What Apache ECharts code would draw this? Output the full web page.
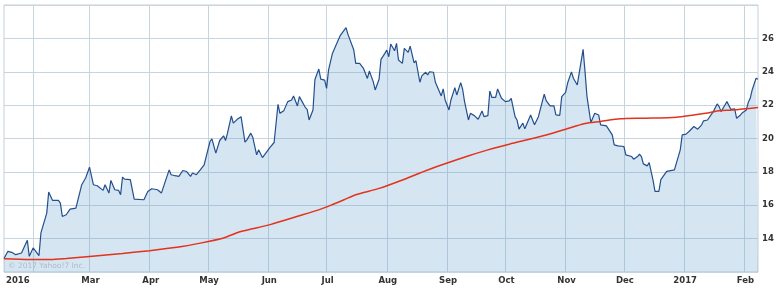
<!DOCTYPE html>
<html>
<head>
<meta charset="utf-8">
<script src="https://cdn.jsdelivr.net/npm/echarts@6/dist/echarts.min.js"></script>
<style>
html,body{margin:0;padding:0;background:#fff;}
#chart{width:781px;height:290px;}
</style>
</head>
<body>
<div id="chart"></div>
<script>
// ---- data ----
const priceDates = [
'2016-01-17','2016-01-19','2016-01-21','2016-01-23','2016-01-24','2016-01-26','2016-01-29','2016-01-30',
'2016-02-01','2016-02-02','2016-02-04','2016-02-05','2016-02-08','2016-02-09','2016-02-11','2016-02-14','2016-02-15','2016-02-16','2016-02-18','2016-02-20','2016-02-21','2016-02-23','2016-02-26','2016-02-28','2016-02-29',
'2016-03-01','2016-03-03','2016-03-05','2016-03-08','2016-03-09','2016-03-11','2016-03-12','2016-03-14','2016-03-16','2016-03-17','2016-03-18','2016-03-19','2016-03-22','2016-03-24','2016-03-29','2016-03-31',
'2016-04-02','2016-04-05','2016-04-07','2016-04-09','2016-04-11','2016-04-12','2016-04-14','2016-04-15','2016-04-16','2016-04-18','2016-04-20','2016-04-22','2016-04-23','2016-04-25','2016-04-27','2016-04-29',
'2016-05-02','2016-05-03','2016-05-05','2016-05-06','2016-05-07','2016-05-09','2016-05-10','2016-05-11','2016-05-13','2016-05-14','2016-05-16','2016-05-18','2016-05-20','2016-05-21','2016-05-23','2016-05-24','2016-05-26','2016-05-27','2016-05-29',
'2016-06-02','2016-06-03','2016-06-04','2016-06-06','2016-06-07','2016-06-09','2016-06-11','2016-06-13','2016-06-14','2016-06-16','2016-06-17','2016-06-18','2016-06-20','2016-06-21','2016-06-22','2016-06-24','2016-06-25','2016-06-27','2016-06-28','2016-06-30',
'2016-07-01','2016-07-02','2016-07-04','2016-07-05','2016-07-07','2016-07-08','2016-07-09','2016-07-11','2016-07-12','2016-07-13','2016-07-15','2016-07-16','2016-07-18','2016-07-20','2016-07-21','2016-07-22','2016-07-23','2016-07-25','2016-07-26','2016-07-28','2016-07-29','2016-07-31',
'2016-08-01','2016-08-02','2016-08-03','2016-08-05','2016-08-06','2016-08-07','2016-08-09','2016-08-10','2016-08-12','2016-08-13','2016-08-15','2016-08-16','2016-08-18','2016-08-19','2016-08-21','2016-08-22','2016-08-23','2016-08-25','2016-08-26','2016-08-27','2016-08-29','2016-08-30','2016-08-31',
'2016-09-02','2016-09-03','2016-09-05','2016-09-06','2016-09-08','2016-09-09','2016-09-10','2016-09-12','2016-09-13','2016-09-15','2016-09-17','2016-09-19','2016-09-20','2016-09-22','2016-09-23','2016-09-24','2016-09-26','2016-09-27','2016-09-29','2016-09-30',
'2016-10-01','2016-10-03','2016-10-04','2016-10-06','2016-10-07','2016-10-08','2016-10-10','2016-10-11','2016-10-12','2016-10-14','2016-10-15','2016-10-16','2016-10-18','2016-10-20','2016-10-21','2016-10-22','2016-10-24','2016-10-26','2016-10-27','2016-10-29','2016-10-30',
'2016-11-01','2016-11-02','2016-11-04','2016-11-05','2016-11-07','2016-11-08','2016-11-10','2016-11-11','2016-11-12','2016-11-14','2016-11-15','2016-11-16','2016-11-18','2016-11-19','2016-11-20','2016-11-22','2016-11-23','2016-11-25','2016-11-26','2016-11-28',
'2016-12-01','2016-12-02','2016-12-03','2016-12-05','2016-12-06','2016-12-08','2016-12-09','2016-12-10','2016-12-11','2016-12-13','2016-12-14','2016-12-16','2016-12-17','2016-12-19','2016-12-20','2016-12-23','2016-12-24','2016-12-27','2016-12-28','2016-12-30','2016-12-31',
'2017-01-02','2017-01-03','2017-01-04','2017-01-06','2017-01-07','2017-01-08','2017-01-10','2017-01-11','2017-01-13','2017-01-14','2017-01-16','2017-01-18','2017-01-19','2017-01-20','2017-01-22','2017-01-23','2017-01-25','2017-01-27','2017-01-28','2017-01-30','2017-01-31',
'2017-02-02','2017-02-03','2017-02-04','2017-02-05','2017-02-07','2017-02-08'
];
const priceValues = [
12.81,13.24,13.18,13.04,13.14,13.14,13.90,12.94,
13.44,13.34,12.98,14.34,15.53,16.79,16.29,16.29,16.13,15.33,15.43,15.77,15.87,15.83,17.23,17.63,17.53,
18.28,17.23,17.17,16.89,17.23,16.73,17.49,16.93,16.89,16.63,17.69,17.57,17.53,16.37,16.33,16.83,
16.99,16.93,16.73,17.43,18.12,17.83,17.77,17.87,17.73,18.08,18.02,17.73,17.93,17.83,18.12,18.42,
19.82,19.98,19.12,19.06,19.88,20.16,19.88,20.32,21.35,20.92,21.15,21.31,19.78,19.92,20.32,20.08,19.02,19.32,18.86,
19.48,19.46,19.76,22.05,21.51,21.67,22.21,22.31,22.55,21.95,22.51,22.47,21.87,21.75,21.11,21.71,23.54,24.16,23.56,23.50,
23.00,24.10,25.10,25.16,25.90,26.16,26.14,26.64,26.24,26.18,25.30,24.50,24.50,24.20,24.30,23.60,24.04,23.41,22.91,23.55,24.74,25.10,
25.30,24.90,25.66,25.26,25.70,24.70,24.50,25.40,25.16,25.54,24.54,24.66,23.37,23.75,23.97,23.81,24.00,23.97,23.37,23.35,22.55,22.97,22.31,
21.71,22.31,23.05,22.61,23.35,22.95,22.21,21.11,21.51,21.37,21.15,21.65,21.31,21.37,22.85,22.47,22.47,22.97,22.41,22.37,
22.21,22.25,22.41,21.31,21.11,20.56,20.92,20.58,20.52,21.41,21.11,20.82,21.31,22.21,22.65,22.27,21.95,21.95,21.41,21.39,22.51,
22.77,23.31,23.99,23.61,23.21,23.11,25.34,23.99,22.51,20.96,20.94,21.51,21.41,20.82,20.92,20.76,20.76,20.22,19.62,19.56,
19.52,19.02,18.98,18.92,18.76,18.92,19.06,18.92,18.48,18.36,18.56,17.49,16.83,16.83,17.53,18.03,18.12,18.12,18.52,19.32,20.22,
20.26,20.22,20.48,20.72,20.76,20.56,20.82,21.06,21.11,21.11,21.61,22.07,21.91,21.61,22.01,22.21,21.75,21.77,21.21,21.41,21.55,
21.71,22.17,22.41,22.91,23.61,23.55
];
const maDates = [
'2016-01-17','2016-01-30','2016-02-10','2016-02-18','2016-03-01','2016-03-18','2016-04-01','2016-04-15','2016-04-27',
'2016-05-09','2016-05-17','2016-06-02','2016-06-17','2016-06-28','2016-07-03','2016-07-10','2016-07-16','2016-07-28',
'2016-08-08','2016-08-23','2016-09-11','2016-09-22','2016-10-03','2016-10-19','2016-11-01','2016-11-11','2016-11-19',
'2016-11-29','2016-12-11','2016-12-28','2017-01-14','2017-01-19','2017-01-26','2017-02-08'
];
const maValues = [
12.79,12.75,12.75,12.81,12.93,13.11,13.28,13.48,13.73,
14.04,14.40,14.84,15.37,15.77,15.99,16.33,16.63,17.01,
17.47,18.16,18.92,19.32,19.66,20.12,20.56,20.90,21.02,
21.18,21.22,21.28,21.55,21.67,21.71,21.86
];
const axisStart = '2016-01-17';
const axisEnd = '2017-02-08';
const monthNames = ['Jan','Feb','Mar','Apr','May','Jun','Jul','Aug','Sep','Oct','Nov','Dec'];
const yTicks = {min: 12, max: 28, step: 2};
const copyright = '\u00A9 2017 Yahoo!7 Inc.';

// ---- calendar-day categories for the x axis ----
function fmt(t){ const d=new Date(t); return d.toISOString().slice(0,10); }
const days = [];
for (let t = Date.parse(axisStart + 'T00:00:00Z'); t <= Date.parse(axisEnd + 'T00:00:00Z'); t += 86400000) days.push(fmt(t));

const priceData = priceDates.map((d,i)=>[d, priceValues[i]]);
const maData = maDates.map((d,i)=>[d, maValues[i]]);

const isMonthStart = (idx, val) => val.slice(8) === '01';
const labelFont = {fontFamily:'DejaVu Sans', fontWeight:'bold', fontSize:8.5, color:'#333'};

const chart = echarts.init(document.getElementById('chart'), null, {renderer:'canvas'});
chart.setOption({
  animation: false,
  backgroundColor: '#fff',
  grid: {left: 4, right: 23, top: 5, bottom: 18, show: true, borderColor: '#c3d0da', borderWidth: 1, backgroundColor: 'transparent'},
  xAxis: {
    type: 'category', data: days, boundaryGap: false,
    axisLine: {show: false}, axisTick: {show: false},
    splitLine: {show: true, interval: isMonthStart, lineStyle: {color: '#c8d5df', width: 1}},
    axisLabel: Object.assign({
      interval: (idx, val) => idx === 0 || (isMonthStart(idx, val) && val !== '2016-02-01'),
      showMinLabel: true, alignMinLabel: 'left', margin: 4,
      padding: [0,0,0,2],
      formatter: (val, idx) => {
        if (idx === 0) return val.slice(0,4);
        const m = +val.slice(5,7);
        return m === 1 ? val.slice(0,4) : monthNames[m-1];
      }
    }, labelFont)
  },
  yAxis: {
    type: 'value', position: 'right', min: yTicks.min, max: yTicks.max, interval: yTicks.step,
    axisLine: {show: false}, axisTick: {show: false},
    splitLine: {lineStyle: {color: '#c8d5df', width: 1}},
    axisLabel: Object.assign({showMinLabel: false, showMaxLabel: false, margin: 4}, labelFont)
  },
  series: [
    {
      type: 'line', data: priceData, showSymbol: false, z: 2,
      lineStyle: {color: '#23508c', width: 1.2},
      areaStyle: {color: 'rgba(100,160,205,0.27)', opacity: 1, origin: 'start'}
    },
    {
      type: 'line', data: maData, showSymbol: false, smooth: 0.25, z: 3,
      lineStyle: {color: '#e2331c', width: 1.5}
    }
  ],
  graphic: [{
    type: 'text', left: 8, top: 262, z: 10,
    style: {text: copyright, font: '7.5px "DejaVu Sans"', fill: '#aebdc8'}
  }]
});
</script>
</body>
</html>
